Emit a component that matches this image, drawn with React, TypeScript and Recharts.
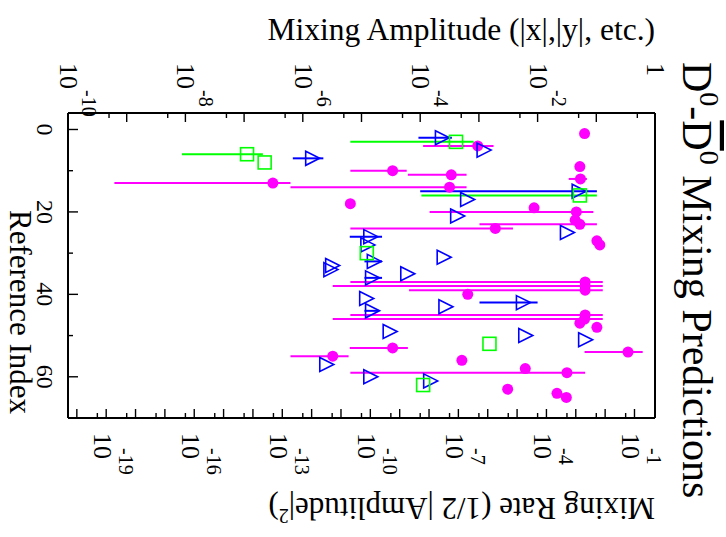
import React from 'react'
import { ScatterChart, Scatter, XAxis, YAxis, ErrorBar } from 'recharts'

// values are log10 of the mixing amplitude; lo/hi are the ends of the error range (null = none)
const theoryIdx = [1, 4, 9, 10, 11, 12, 13, 14, 18, 19, 20, 22, 23, 24, 27, 28, 37, 38, 39, 40, 45, 46, 47, 48, 53, 54, 55, 56, 58, 59, 63, 64, 65]
const theoryAmp = [-1.2, -3.02, -1.28, -4.47, -3.47, -1.27, -6.51, -3.5, -5.19, -2.06, -1.34, -1.36, -1.28, -2.72, -0.99, -0.94, -1.19, -1.19, -1.19, -3.19, -1.19, -1.2, -1.28, -0.99, -4.47, -0.46, -5.49, -3.29, -2.21, -1.5, -2.51, -1.67, -1.51]
const theoryLo = [null, -3.95, null, -5.19, -4.21, -1.47, -9.21, -6.21, null, null, -3.84, null, -2.99, -5.19, null, null, -5.19, -5.49, -4.19, null, -5.19, -5.49, null, null, -5.2, -1.2, -6.21, null, null, -5.19, null, null, null]
const theoryHi = [null, -2.75, null, -4.23, -3.21, -1.16, -6.21, -3.21, null, null, -1.05, null, -0.99, -2.42, null, null, -0.89, -0.89, -0.89, null, -0.89, -0.89, null, null, -4.21, -0.21, -5.22, null, null, -1.19, null, null, null]

const smIdx = [2, 5, 7, 15, 17, 21, 25, 26, 28, 31, 32, 33, 34, 35, 36, 41, 42, 43, 44, 49, 50, 51, 57, 60, 61]
const smAmp = [-3.63, -2.92, -5.84, -1.3, -3.2, -3.37, -1.5, -4.85, -4.9, -3.6, -4.79, -5.5, -5.53, -4.22, -4.82, -4.92, -2.25, -3.57, -4.82, -4.52, -2.21, -1.19, -5.6, -4.85, -3.83]
const smLo = [-4.03, null, -6.17, -4.0, null, null, null, -5.2, null, null, -4.95, null, null, null, -4.95, null, -2.99, null, -4.95, null, null, null, null, null, null]
const smHi = [-3.46, null, -5.65, -0.99, null, null, null, -4.65, null, null, -4.65, null, null, null, -4.65, null, -2.0, null, -4.7, null, null, null, null, null, null]

const otherIdx = [3, 6, 8, 16, 30, 52, 62]
const otherAmp = [-3.39, -6.95, -6.65, -1.28, -4.91, -2.82, -3.95]
const otherLo = [-5.19, -8.06, null, -3.98, null, null, null]
const otherHi = [-3.09, -6.68, null, -0.99, null, null, null]

// axis ticks (log10)
const ampMajor = [-10, -9, -8, -7, -6, -5, -4, -3, -2, -1, 0]
const ampLabeled = [-10, -8, -6, -4, -2, 0]
const rateMajor = [-20, -19, -18, -17, -16, -15, -14, -13, -12, -11, -10, -9, -8, -7, -6, -5, -4, -3, -2, -1]
const rateLabeled = [-19, -16, -13, -10, -7, -4, -1]
const idxTicks = [0, 10, 20, 30, 40, 50, 60]
const idxLabeled = [0, 20, 40, 60]

const LOG2 = Math.log10(2)
const LOG5 = Math.log10(5)
const ampMinor = ampMajor.slice(0, -1).map((d) => d + LOG5)
const rateMinor = rateMajor.slice(0, -1).map((d) => d + LOG5)
const ampTicks = [...ampMajor, ...ampMinor]
const rateTicks = [...rateMajor, ...rateMinor]
const AMP_DOMAIN = [-10, 0]
const RATE_DOMAIN = [-20 - LOG2, -LOG2]
const IDX_DOMAIN = [-4, 70]

const build = (idx: number[], amp: number[], lo: (number | null)[], hi: (number | null)[]) =>
  idx.map((i, k) => ({
    idx: i,
    amp: amp[k],
    // rate = |A|^2 / 2
    rate: 2 * amp[k] - LOG2,
    err: [lo[k] == null ? 0 : amp[k] - (lo[k] as number), hi[k] == null ? 0 : (hi[k] as number) - amp[k]],
  }))

const theory = build(theoryIdx, theoryAmp, theoryLo, theoryHi)
const sm = build(smIdx, smAmp, smLo, smHi)
const other = build(otherIdx, otherAmp, otherLo, otherHi)

// tick marks placed through the chart scales, drawn inward from the frame
const topTickPts = ampTicks.map((v, k) => ({ amp: v, idx: IDX_DOMAIN[0], len: k < ampMajor.length ? 9 : 5 }))
const bottomTickPts = rateTicks.map((v, k) => ({ rate: v, idx: IDX_DOMAIN[1], len: k < rateMajor.length ? 9 : 5 }))
const leftTickPts = idxTicks.map((v) => ({ amp: AMP_DOMAIN[0], idx: v, len: idxLabeled.includes(v) ? 10 : 5 }))

const W = 726
const H = 537
const TOP = 113
const BOTTOM = 418
const LEFT = 68
const RIGHT = 655
const FONT = 'Liberation Serif, Times New Roman, serif'

const MAGENTA = '#ff00ff'
const BLUE = '#0000ff'
const GREEN = '#00ff00'

// text rotated 90deg clockwise, base + superscript
const PowLabel = ({ x, y, base, sup, supShift, supRaise }: any) => (
  <g fontFamily={FONT} fill="#000">
    <text transform={`translate(${x},${y}) rotate(90)`} fontSize={26}>{base}</text>
    {sup && (
      <text transform={`translate(${x + supRaise},${y + supShift}) rotate(90)`} fontSize={20}>{sup}</text>
    )}
  </g>
)

const AmpTick = (p: any) => {
  const v = p.payload.value
  const x = p.x
  const lab = ampLabeled.some((a) => Math.abs(a - v) < 1e-6)
  if (!lab) return <g />
  return Math.round(v) === 0
    ? <PowLabel x={x - 8} y={63} base="1" />
    : <PowLabel x={x - 8} y={63} base="10" sup={`${Math.round(v)}`} supShift={27} supRaise={22} />
}

const RateTick = (p: any) => {
  const v = p.payload.value
  const x = p.x
  const lab = rateLabeled.some((r) => Math.abs(r - v) < 1e-6)
  if (!lab) return <g />
  return <PowLabel x={x - 12} y={433} base="10" sup={`${Math.round(v)}`} supShift={15} supRaise={25} />
}

const IdxTick = (p: any) => {
  const v = p.payload.value
  const y = p.y
  if (!idxLabeled.includes(v)) return <g />
  return (
    <text transform={`translate(37,${y}) rotate(90)`} fontSize={24} fontFamily={FONT} textAnchor="middle" fill="#000">
      {v}
    </text>
  )
}

const lenOf = (p: any) => (p.payload && p.payload.len) || p.len || 5
const DownTick = (p: any) => <path d={`M${p.cx},${p.cy}V${p.cy + lenOf(p)}`} stroke="#000" strokeWidth={1.4} fill="none" />
const UpTick = (p: any) => <path d={`M${p.cx},${p.cy}V${p.cy - lenOf(p)}`} stroke="#000" strokeWidth={1.4} fill="none" />
const RightTick = (p: any) => <path d={`M${p.cx},${p.cy}H${p.cx + lenOf(p)}`} stroke="#000" strokeWidth={1.4} fill="none" />

const Dot = (p: any) => <circle cx={p.cx} cy={p.cy} r={5.5} fill={MAGENTA} />
const Tri = (p: any) => (
  <polygon
    points={`${p.cx - 6.5},${p.cy - 7} ${p.cx + 7.5},${p.cy} ${p.cx - 6.5},${p.cy + 7}`}
    fill="none"
    stroke={BLUE}
    strokeWidth={1.6}
  />
)
const Sq = (p: any) => (
  <rect x={p.cx - 6.5} y={p.cy - 6.5} width={13} height={13} fill="none" stroke={GREEN} strokeWidth={1.6} />
)

export default function App() {
  return (
    <div style={{ position: 'absolute', left: 0, top: 0, width: W, height: H, background: '#fff' }}>
      <ScatterChart
        width={W}
        height={H}
        margin={{ top: TOP - 20, bottom: H - BOTTOM - 20, left: LEFT - 20, right: W - RIGHT - 10 }}
      >
        <XAxis
          xAxisId="amp"
          orientation="top"
          type="number"
          dataKey="amp"
          domain={AMP_DOMAIN}
          ticks={ampTicks}
          interval={0}
          height={20}
          tick={<AmpTick />}
          tickLine={false}
          axisLine={{ stroke: '#000', strokeWidth: 2 }}
        />
        <XAxis
          xAxisId="rate"
          orientation="bottom"
          type="number"
          dataKey="rate"
          domain={RATE_DOMAIN}
          ticks={rateTicks}
          interval={0}
          height={20}
          tick={<RateTick />}
          tickLine={false}
          axisLine={{ stroke: '#000', strokeWidth: 2 }}
        />
        <YAxis
          yAxisId="idx"
          type="number"
          dataKey="idx"
          domain={IDX_DOMAIN}
          reversed
          ticks={idxTicks}
          interval={0}
          width={20}
          tick={<IdxTick />}
          tickLine={false}
          axisLine={{ stroke: '#000', strokeWidth: 2 }}
        />
        <YAxis
          yAxisId="frame"
          orientation="right"
          type="number"
          domain={IDX_DOMAIN}
          width={10}
          tick={false}
          tickLine={false}
          axisLine={{ stroke: '#000', strokeWidth: 2 }}
        />

        <Scatter data={topTickPts} xAxisId="amp" yAxisId="idx" shape={<DownTick />} isAnimationActive={false} />
        <Scatter data={bottomTickPts} xAxisId="rate" yAxisId="idx" shape={<UpTick />} isAnimationActive={false} />
        <Scatter data={leftTickPts} xAxisId="amp" yAxisId="idx" shape={<RightTick />} isAnimationActive={false} />

        <Scatter data={theory} xAxisId="amp" yAxisId="idx" shape={<Dot />} isAnimationActive={false}>
          <ErrorBar dataKey={(d: any) => d.err} direction="x" width={0} stroke={MAGENTA} strokeWidth={2} />
        </Scatter>
        <Scatter data={sm} xAxisId="amp" yAxisId="idx" shape={<Tri />} isAnimationActive={false}>
          <ErrorBar dataKey={(d: any) => d.err} direction="x" width={0} stroke={BLUE} strokeWidth={2} />
        </Scatter>
        <Scatter data={other} xAxisId="amp" yAxisId="idx" shape={<Sq />} isAnimationActive={false}>
          <ErrorBar dataKey={(d: any) => d.err} direction="x" width={0} stroke={GREEN} strokeWidth={2} />
        </Scatter>
      </ScatterChart>
      <svg width={W} height={H} style={{ position: 'absolute', left: 0, top: 0, pointerEvents: 'none' }}>
        <g fontFamily={FONT} fill="#000">
          <text x={RIGHT} y={40} fontSize={31.5} textAnchor="end">
            Mixing Amplitude (|x|,|y|, etc.)
          </text>
          <text transform={`translate(${RIGHT},498) rotate(180)`} fontSize={31}>
            Mixing Rate (1/2 |Amplitude|<tspan dy={-11} fontSize={20}>2</tspan>
            <tspan dy={11} fontSize={31}>)</tspan>
          </text>
          <text transform="translate(10,312) rotate(90)" fontSize={31} textAnchor="middle">
            Reference Index
          </text>
          <text transform="translate(683,62) rotate(90)" fontSize={42}>
            D<tspan dy={-17} fontSize={28}>0</tspan>
            <tspan dy={17} fontSize={42}>-</tspan>
            <tspan style={{ textDecoration: 'overline' }}>D</tspan>
            <tspan dy={-17} fontSize={28}>0</tspan>
            <tspan dy={17} fontSize={42}> Mixing Predictions</tspan>
          </text>
        </g>
      </svg>
    </div>
  )
}
